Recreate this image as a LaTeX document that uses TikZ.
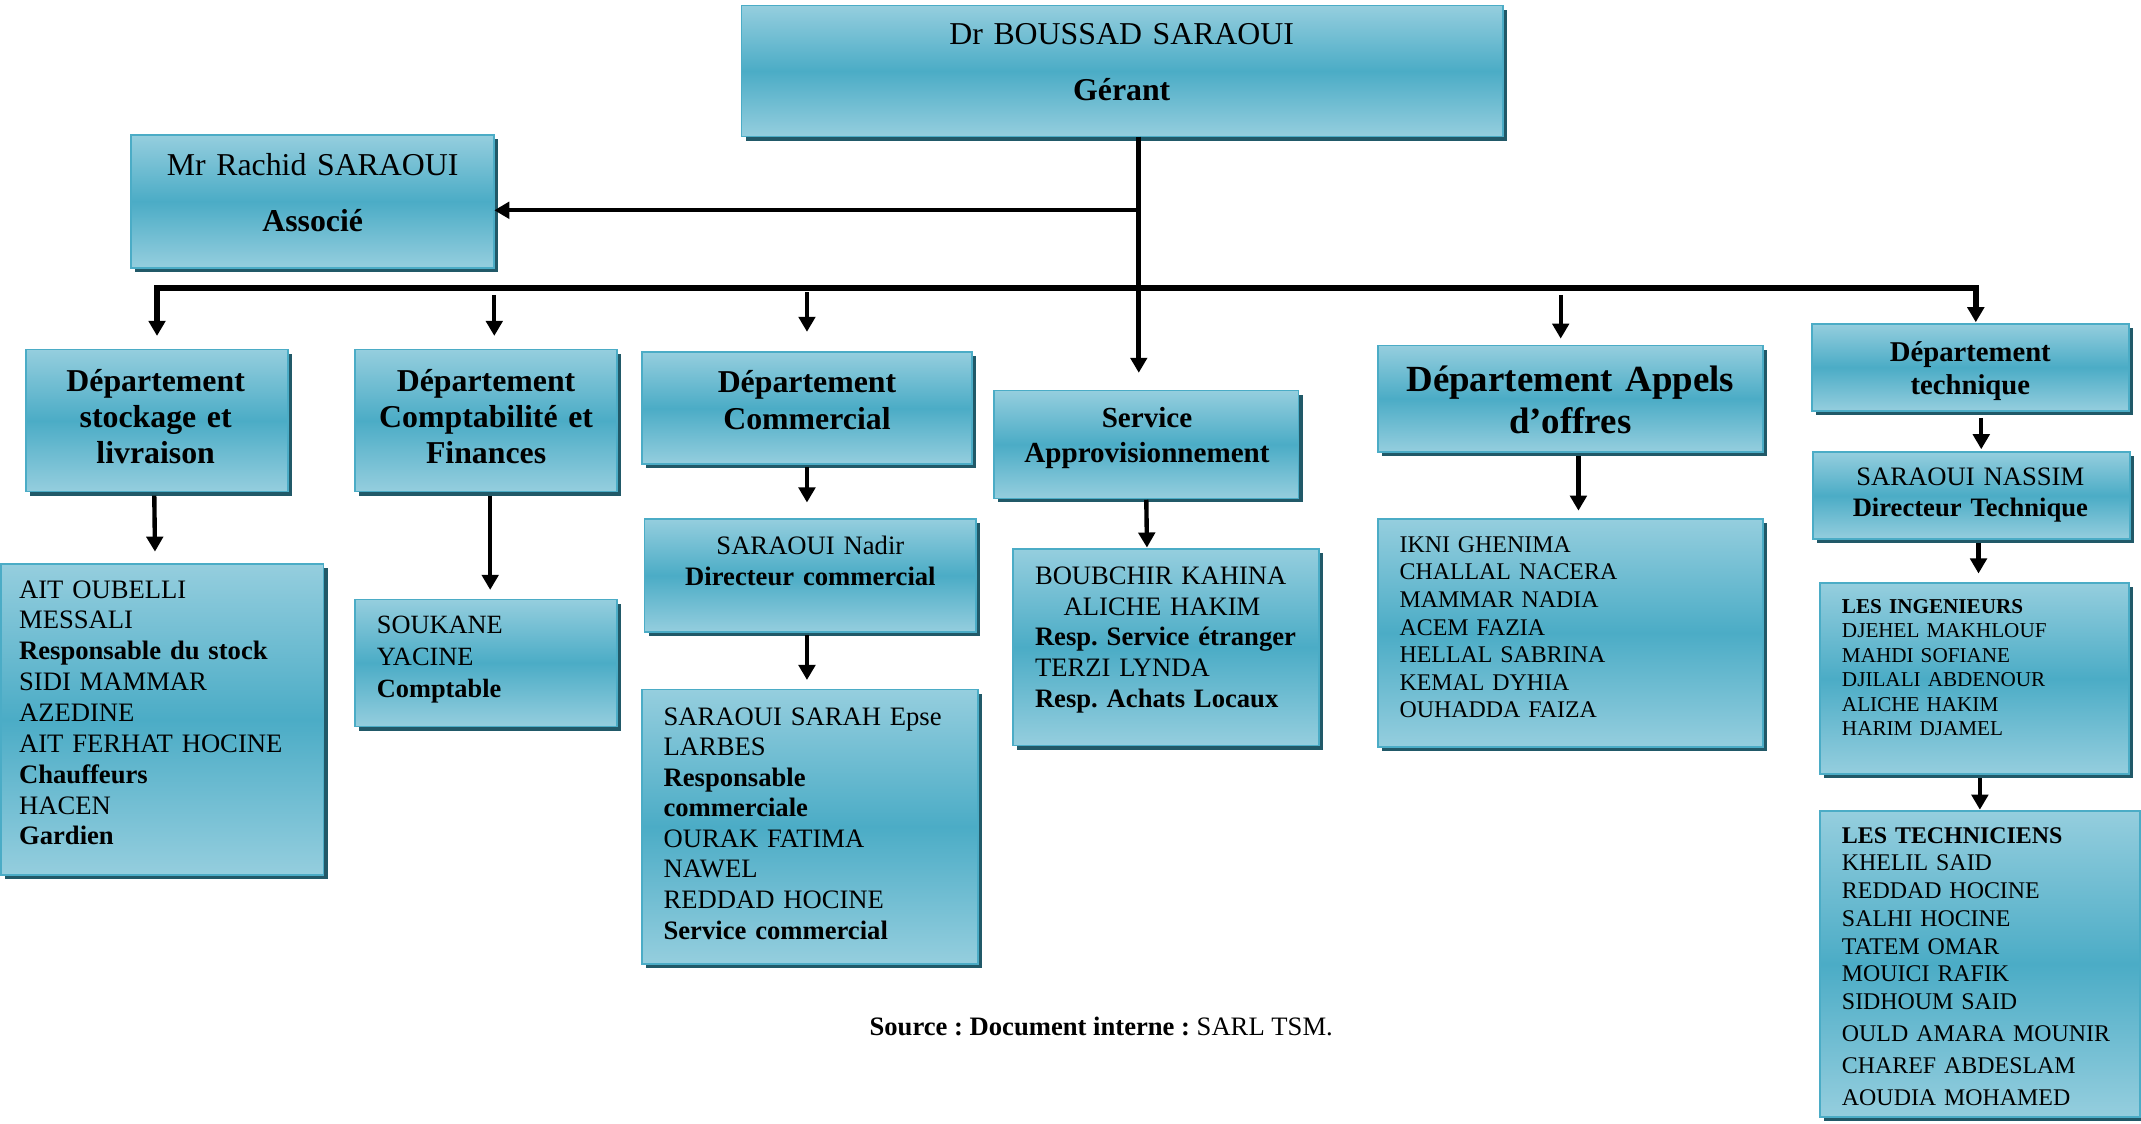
\documentclass[tikz,border=0pt]{standalone}
\usepackage{fontspec}
\setmainfont{Liberation Serif}
\usetikzlibrary{arrows.meta,shadows}
\frenchspacing

\definecolor{boxlight}{HTML}{95CEDE}
\definecolor{boxmid}{HTML}{4BACC6}
\definecolor{boxline}{HTML}{4BACC6}
\definecolor{boxshadow}{HTML}{215968}

\tikzset{
  orgbox/.style={draw=boxline, line width=1.3pt,
    top color=boxlight, bottom color=boxlight, middle color=boxmid,
    inner sep=0pt, outer sep=0pt, anchor=north west,
    drop shadow={shadow xshift=3pt, shadow yshift=-3pt, fill=boxshadow, opacity=1}},
  lbl/.style={inner sep=0pt, outer sep=0pt, align=left, anchor=base west},
  clbl/.style={inner sep=0pt, outer sep=0pt, align=center, anchor=base},
  tip/.tip={Triangle[width=12pt,length=11pt]},
  link/.style={line width=3.2pt, -tip},
  trunk/.style={line width=4pt},
}

\begin{document}
\begin{tikzpicture}[x=1pt,y=-1pt]
\clip (0,0) rectangle (1568,823);

% ---------- boxes ----------
\node[orgbox, minimum width=558pt, minimum height=96pt] (g)  at (543,4)   {};
\node[orgbox, minimum width=266pt, minimum height=97pt] (a)  at (96,99)   {};
\node[orgbox, minimum width=192pt, minimum height=104pt] (d1) at (19,256)  {};
\node[orgbox, minimum width=192pt, minimum height=104pt] (d2) at (260,256) {};
\node[orgbox, minimum width=242pt, minimum height=82pt] (d3) at (470,258) {};
\node[orgbox, minimum width=223pt, minimum height=79pt] (d4) at (728,286) {};
\node[orgbox, minimum width=282pt, minimum height=78pt] (d5) at (1009,253) {};
\node[orgbox, minimum width=232pt, minimum height=64pt] (d6) at (1327,237) {};
\node[orgbox, minimum width=232pt, minimum height=64pt] (t1) at (1328,331) {};
\node[orgbox, minimum width=226pt, minimum height=140pt] (t2) at (1333,427) {};
\node[orgbox, minimum width=234pt, minimum height=224pt] (t3) at (1333,594) {};
\node[orgbox, minimum width=236pt, minimum height=228pt] (l1) at (1,413)   {};
\node[orgbox, minimum width=192pt, minimum height=93pt] (l2) at (260,439) {};
\node[orgbox, minimum width=243pt, minimum height=83pt] (c1) at (472,380) {};
\node[orgbox, minimum width=246pt, minimum height=201pt] (c2) at (470,505) {};
\node[orgbox, minimum width=224pt, minimum height=144pt] (s1) at (742,402) {};
\node[orgbox, minimum width=282pt, minimum height=167pt] (ap) at (1009,380) {};

% ---------- texts ----------
\node[clbl, text width=540pt, font=\fontsize{23.3}{41}\selectfont] (g-t) at (821.5,32.5)
  {Dr BOUSSAD SARAOUI\\\textbf{Gérant}};
\node[clbl, text width=250pt, font=\fontsize{23.3}{41}\selectfont] (a-t) at (229,128.5)
  {Mr Rachid SARAOUI\\\textbf{Associé}};
\node[clbl, text width=185pt, font=\bfseries\fontsize{23.3}{26.5}\selectfont] (d1-t) at (114,286.5)
  {Département\\stockage et\\livraison};
\node[clbl, text width=185pt, font=\bfseries\fontsize{23.3}{26.5}\selectfont] (d2-t) at (356,286.5)
  {Département\\Comptabilité et\\Finances};
\node[clbl, text width=235pt, font=\bfseries\fontsize{23.3}{27}\selectfont] (d3-t) at (591,287.5)
  {Département\\Commercial};
\node[clbl, text width=215pt, font=\bfseries\fontsize{21.3}{26}\selectfont] (d4-t) at (840,313)
  {Service\\Approvisionnement};
\node[clbl, text width=275pt, font=\bfseries\fontsize{27}{31}\selectfont] (d5-t) at (1150,286.5)
  {Département Appels\\d’offres};
\node[clbl, text width=225pt, font=\bfseries\fontsize{21}{24}\selectfont] (d6-t) at (1443,265)
  {Département\\technique};
\node[clbl, text width=225pt, font=\fontsize{19.5}{23}\selectfont] (t1-t) at (1443,355.5)
  {SARAOUI NASSIM\\\textbf{Directeur Technique}};
\node[lbl, text width=205pt, font=\fontsize{15.5}{18}\selectfont] (t2-t) at (1349,449)
  {\textbf{LES INGENIEURS}\\DJEHEL MAKHLOUF\\MAHDI SOFIANE\\DJILALI ABDENOUR\\ALICHE HAKIM\\HARIM DJAMEL};
\node[lbl, text width=215pt, font=\fontsize{17.5}{20.3}\selectfont] (t3-t) at (1349,617.5)
  {\textbf{LES TECHNICIENS}\\KHELIL SAID\\REDDAD HOCINE\\SALHI HOCINE\\TATEM OMAR\\MOUICI RAFIK\\SIDHOUM SAID\\[3.4pt]OULD AMARA MOUNIR\\[3pt]CHAREF ABDESLAM\\[3pt]AOUDIA MOHAMED};
\node[lbl, text width=220pt, font=\fontsize{19.5}{22.6}\selectfont] (l1-t) at (14,438)
  {AIT OUBELLI\\MESSALI\\\textbf{Responsable du stock}\\SIDI MAMMAR\\AZEDINE\\AIT FERHAT HOCINE\\\textbf{Chauffeurs}\\HACEN\\\textbf{Gardien}};
\node[lbl, text width=170pt, font=\fontsize{19.3}{23.5}\selectfont] (l2-t) at (276,464)
  {SOUKANE\\YACINE\\\textbf{Comptable}};
\node[clbl, text width=235pt, font=\fontsize{19.5}{23}\selectfont] (c1-t) at (593.5,406)
  {SARAOUI Nadir\\\textbf{Directeur commercial}};
\node[lbl, text width=225pt, font=\fontsize{19.5}{22.4}\selectfont] (c2-t) at (486,531)
  {SARAOUI SARAH Epse\\LARBES\\\textbf{Responsable}\\\textbf{commerciale}\\OURAK FATIMA\\NAWEL\\REDDAD HOCINE\\\textbf{Service commercial}};
\node[lbl, text width=205pt, font=\fontsize{19.5}{22.5}\selectfont] (s1-t) at (758,428)
  {BOUBCHIR KAHINA\\\hspace*{21pt}ALICHE HAKIM\\\textbf{Resp. Service étranger}\\TERZI LYNDA\\\textbf{Resp. Achats Locaux}};
\node[lbl, text width=260pt, font=\fontsize{17.5}{20.2}\selectfont] (ap-t) at (1025,404.5)
  {IKNI GHENIMA\\CHALLAL NACERA\\MAMMAR NADIA\\ACEM FAZIA\\HELLAL SABRINA\\KEMAL DYHIA\\OUHADDA FAIZA};
\node[inner sep=0pt, anchor=base, font=\fontsize{19.5}{23}\selectfont] (src) at (806.5,758)
  {\textbf{Source : Document interne :} SARL TSM.};

% ---------- connectors ----------
\coordinate (j1) at (834,154);
\coordinate (j2) at (834,211);
\draw[line width=3.5pt, -tip] ([xshift=12pt]g.south) -- ([xshift=-5.5pt,yshift=13pt]d4.north);
\draw[link] (j1) -- (j1 -| a.east);
\draw[trunk, tip-tip] ([yshift=10pt]d1.north) |- (j2) -| ([xshift=4pt,yshift=1pt]d6.north);
\draw[link] ([xshift=6pt,yshift=40pt]d2.north) -- ([xshift=6pt,yshift=10pt]d2.north);
\draw[link] ([yshift=44pt]d3.north) -- ([yshift=15pt]d3.north);
\draw[link] ([xshift=-7pt,yshift=37pt]d5.north) -- ([xshift=-7pt,yshift=5pt]d5.north);

\draw[link] ([xshift=-2pt,yshift=-3pt]d1.south) -- ([xshift=-5.5pt,yshift=9pt]l1.north);
\draw[link] ([xshift=3pt,yshift=-3pt]d2.south) -- ([xshift=3pt,yshift=7pt]l2.north);
\draw[link] ([yshift=-2pt]d3.south) -- ([xshift=-2.5pt,yshift=12pt]c1.north);
\draw[link] ([xshift=-2.5pt,yshift=-2pt]c1.south) -- ([xshift=-2pt,yshift=7pt]c2.north);
\draw[link] ([yshift=-1pt]d4.south) -- ([xshift=-14pt,yshift=1pt]s1.north);
\draw[link] ([xshift=6pt,yshift=-3pt]d5.south) -- ([xshift=6pt,yshift=6pt]ap.north);
\draw[link] ([xshift=8pt,yshift=-5pt]d6.south) -- ([xshift=7pt,yshift=2pt]t1.north);
\draw[link] ([xshift=5pt,yshift=-3pt]t1.south) -- ([xshift=3pt,yshift=7pt]t2.north);
\draw[link] ([xshift=4pt,yshift=-3pt]t2.south) -- ([yshift=1pt]t3.north);
\end{tikzpicture}
\end{document}
